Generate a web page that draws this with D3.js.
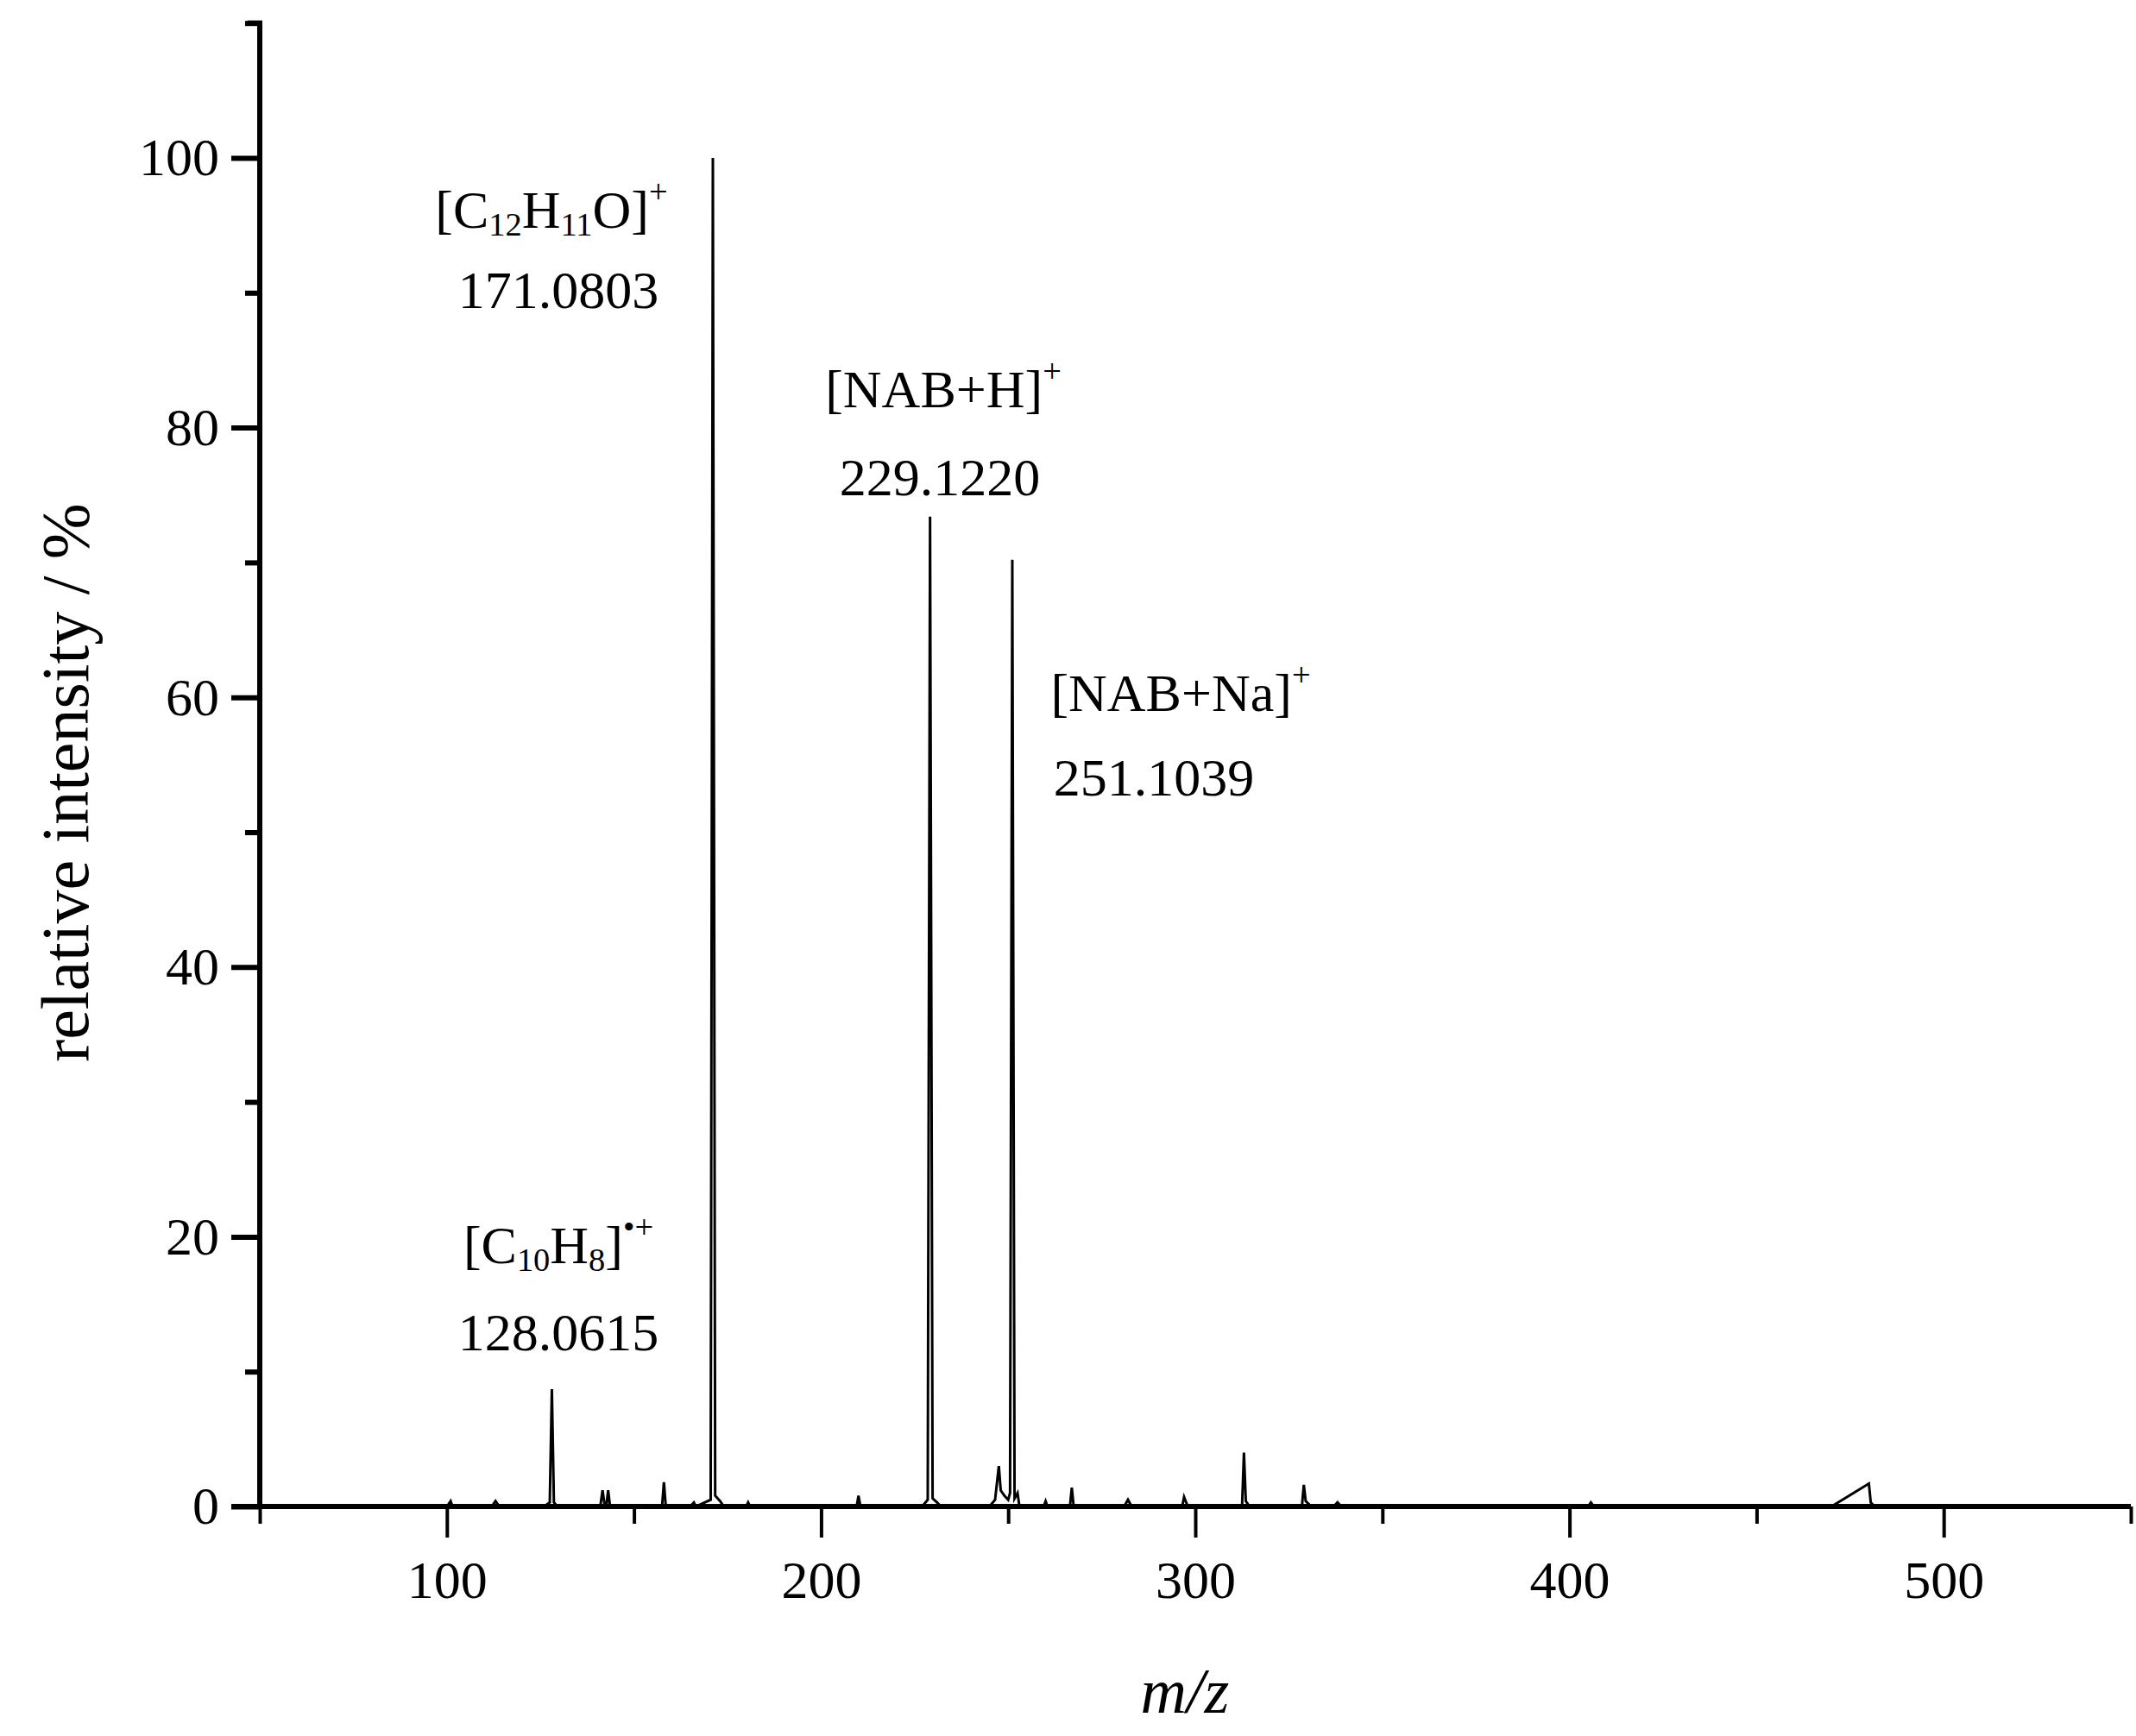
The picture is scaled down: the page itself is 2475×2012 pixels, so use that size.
<!DOCTYPE html>
<html><head><meta charset="utf-8">
<script src="https://cdn.jsdelivr.net/npm/d3@7"></script>
<style>body{margin:0;background:#fff}text{font-family:"Liberation Serif","Times New Roman",serif;fill:#000}</style>
</head><body><svg id="c" width="2475" height="2012"></svg>
<script>
// profile points of the spectrum (m/z, relative intensity)
const mz =        [50,100,101,101.5,110,112,113,114,120,126,127.5,128.06,128.6,129.5,140,141,141.6,142.2,142.6,143.1,143.6,150,157.5,158,158.5,165,166,166.5,170.5,171.08,171.7,173,174,177,180,180.5,181,200,209.5,210,210.5,220,227,228.5,229.12,229.8,231,232,240,245,246.5,247.5,248,249,250,250.5,251.1,251.7,252.5,253,258,259.5,260,260.5,266,266.5,267,267.5,280,281,282,283,290,296,296.5,297,298,310,312.5,313,313.5,314.5,327,328.5,329,329.5,331,337,338,339,400,405,405.7,406.5,470,480,480.5,481.5,550];
const intensity = [0,  0,  0.4,0,   0,  0,  0.4,0,  0,  0,  0.3,  8.7,   0.3,  0,    0,  0,  1.2,  0,    0,    1.2,  0,    0,  0,    1.8,0,    0,  0.3,0,    0.5,  100,   0.8,  0.4,0,  0,  0,  0.3,  0,  0,  0,    0.8,0,    0,  0,  0.5,  73.4,  0.6,  0.3,0,  0,  0,  0.5,  3,    1.2,0.8,0.5,1,    70.2, 0.6,  1,    0,  0,  0,    0.4,0,    0,  0,    1.4,0,    0,  0,  0.5,0,  0,  0,  0,    0.7,0,  0,  0,    4,    0.4,  0,    0,  0,    1.6,0.4,  0,  0,  0.3,0,  0,  0,    0.3,  0,    0,  1.7,0.3,  0,    0];
const xTicks = [100,200,300,400,500];
const yTicks = [0,20,40,60,80,100];

const svg = d3.select("#c");
const x = d3.scaleLinear().domain([50,550]).range([301,2469]);
const y = d3.scaleLinear().domain([0,100]).range([1746,183]);

svg.append("path")
  .datum(mz.map((m,i)=>[m,intensity[i]]))
  .attr("fill","none").attr("stroke","#000").attr("stroke-width",3)
  .attr("d", d3.line().x(d=>x(d[0])).y(d=>y(d[1])));

// x axis
const xa = svg.append("g").attr("transform","translate(0,1746)")
  .call(d3.axisBottom(x).tickValues(xTicks).tickSize(36).tickPadding(26).tickSizeOuter(0));
xa.append("g").call(d3.axisBottom(x).tickValues(d3.range(50,551,50).filter(v=>v%100)).tickSize(20).tickFormat(""));
xa.selectAll("path.domain").attr("stroke-width",6).attr("d","M268,0H2469");
xa.selectAll(".tick line").attr("stroke-width",4);
xa.selectAll("text").attr("font-size",62).style("font-family","Liberation Serif");

// y axis
const ya = svg.append("g").attr("transform","translate(301,0)")
  .call(d3.axisLeft(y).tickValues(yTicks).tickSize(33).tickPadding(14).tickSizeOuter(0));
ya.append("g").call(d3.axisLeft(y).tickValues(d3.range(10,111,20)).tickSize(17).tickFormat(""));
ya.selectAll("path.domain").attr("stroke-width",6).attr("d","M0,1746V25");
ya.selectAll(".tick line").attr("stroke-width",6);
ya.selectAll("text").attr("font-size",62).style("font-family","Liberation Serif");
svg.append("line").attr("x1",287).attr("x2",304).attr("y1",y(110)).attr("y2",y(110)).attr("stroke","#000").attr("stroke-width",6);

// axis titles
svg.append("text").attr("transform","translate(102,907) rotate(-90)").attr("text-anchor","middle")
  .attr("font-size",78).text("relative intensity / %");
svg.append("text").attr("x",1373).attr("y",1985).attr("text-anchor","middle").attr("font-size",74).attr("font-style","italic").text("m/z");

function ann(x0,y0,parts,fs){
  const t = svg.append("text").attr("x",x0).attr("y",y0).attr("text-anchor","middle").attr("font-size",fs);
  parts.forEach(p=>{
    const s = t.append("tspan").text(p[0]);
    if(p[1]==="sub"){s.attr("font-size",fs*0.62).attr("dy",9);}
    else if(p[1]==="sup"){s.attr("font-size",fs*0.62).attr("dy",-29);}
    else if(p[1]==="back"){s.attr("dy",p[2]);}
  });
  return t;
}
const fs=62;
ann(639,264,[["[C"],["12","sub"],["H","back",-9],["11","sub"],["O]","back",-9],["+","sup"]],fs);
ann(647,357,[["171.0803"]],fs);
ann(1093,472,[["[NAB+H]"],["+","sup"]],fs);
ann(1089,574,[["229.1220"]],fs);
ann(1368,824,[["[NAB+Na]"],["+","sup"]],fs);
ann(1337,922,[["251.1039"]],fs);
ann(647,1464,[["[C"],["10","sub"],["H","back",-9],["8","sub"],["]","back",-9],["•+","sup"]],fs);
ann(647,1565,[["128.0615"]],fs);
</script></body></html>
